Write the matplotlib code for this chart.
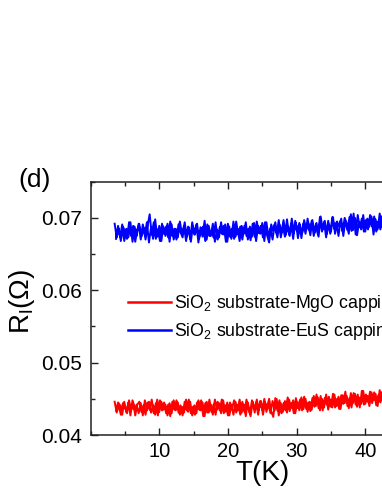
import matplotlib
matplotlib.use("Agg")
import matplotlib.pyplot as plt
from matplotlib.ticker import MultipleLocator

plt.rcParams['font.family'] = ['Liberation Sans', 'DejaVu Sans']
plt.rcParams['mathtext.fontset'] = 'custom'
plt.rcParams['mathtext.rm'] = 'Liberation Sans'
plt.rcParams['mathtext.it'] = 'Liberation Sans:italic'

# Warming sweep temperatures (K)
temperature_up = [
    3.5, 3.8, 4.1, 4.4, 4.7, 5.0, 5.3, 5.6, 5.9, 6.2,
    6.5, 6.8, 7.1, 7.4, 7.7, 8.0, 8.3, 8.6, 8.9, 9.2,
    9.5, 9.8, 10.1, 10.4, 10.7, 11.0, 11.3, 11.6, 11.9, 12.2,
    12.5, 12.8, 13.1, 13.4, 13.7, 14.0, 14.3, 14.6, 14.9, 15.2,
    15.5, 15.8, 16.1, 16.4, 16.7, 17.0, 17.3, 17.6, 17.9, 18.2,
    18.5, 18.8, 19.1, 19.4, 19.7, 20.0, 20.3, 20.6, 20.9, 21.2,
    21.5, 21.8, 22.1, 22.4, 22.7, 23.0, 23.3, 23.6, 23.9, 24.2,
    24.5, 24.8, 25.1, 25.4, 25.7, 26.0, 26.3, 26.6, 26.9, 27.2,
    27.5, 27.8, 28.1, 28.4, 28.7, 29.0, 29.3, 29.6, 29.9, 30.2,
    30.5, 30.8, 31.1, 31.4, 31.7, 32.0, 32.3, 32.6, 32.9, 33.2,
    33.5, 33.8, 34.1, 34.4, 34.7, 35.0, 35.3, 35.6, 35.9, 36.2,
    36.5, 36.8, 37.1, 37.4, 37.7, 38.0, 38.3, 38.6, 38.9, 39.2,
    39.5, 39.8, 40.1, 40.4, 40.7, 41.0, 41.3, 41.6, 41.9, 42.2,
    42.5, 42.8, 43.1,
]

# Cooling sweep temperatures (K)
temperature_down = [
    43.0, 42.7, 42.4, 42.1, 41.8, 41.5, 41.2, 40.9, 40.6, 40.3,
    40.0, 39.7, 39.4, 39.1, 38.8, 38.5, 38.2, 37.9, 37.6, 37.3,
    37.0, 36.7, 36.4, 36.1, 35.8, 35.5, 35.2, 34.9, 34.6, 34.3,
    34.0, 33.7, 33.4, 33.1, 32.8, 32.5, 32.2, 31.9, 31.6, 31.3,
    31.0, 30.7, 30.4, 30.1, 29.8, 29.5, 29.2, 28.9, 28.6, 28.3,
    28.0, 27.7, 27.4, 27.1, 26.8, 26.5, 26.2, 25.9, 25.6, 25.3,
    25.0, 24.7, 24.4, 24.1, 23.8, 23.5, 23.2, 22.9, 22.6, 22.3,
    22.0, 21.7, 21.4, 21.1, 20.8, 20.5, 20.2, 19.9, 19.6, 19.3,
    19.0, 18.7, 18.4, 18.1, 17.8, 17.5, 17.2, 16.9, 16.6, 16.3,
    16.0, 15.7, 15.4, 15.1, 14.8, 14.5, 14.2, 13.9, 13.6, 13.3,
    13.0, 12.7, 12.4, 12.1, 11.8, 11.5, 11.2, 10.9, 10.6, 10.3,
    10.0, 9.7, 9.4, 9.1, 8.8, 8.5, 8.2, 7.9, 7.6, 7.3,
    7.0, 6.7, 6.4, 6.1, 5.8, 5.5, 5.2, 4.9, 4.6, 4.3,
    4.0, 3.7,
]

# SiO2 substrate - EuS capping (Ohm), warming
r_eus_up = [
    0.0692, 0.0673, 0.0685, 0.0668, 0.0688, 0.0682, 0.0671, 0.0694, 0.0675, 0.0689,
    0.0667, 0.0684, 0.0691, 0.0674, 0.0687, 0.0670, 0.0689, 0.0705, 0.0677, 0.0694,
    0.0671, 0.0684, 0.0668, 0.0692, 0.0678, 0.0688, 0.0673, 0.0695, 0.0675, 0.0685,
    0.0670, 0.0691, 0.0680, 0.0673, 0.0694, 0.0674, 0.0687, 0.0667, 0.0689, 0.0677,
    0.0692, 0.0671, 0.0684, 0.0688, 0.0668, 0.0691, 0.0675, 0.0682, 0.0673, 0.0694,
    0.0670, 0.0687, 0.0678, 0.0689, 0.0667, 0.0692, 0.0674, 0.0685, 0.0671, 0.0695,
    0.0677, 0.0688, 0.0670, 0.0689, 0.0675, 0.0685, 0.0669, 0.0692, 0.0674, 0.0695,
    0.0679, 0.0689, 0.0673, 0.0694, 0.0676, 0.0666, 0.0691, 0.0682, 0.0694, 0.0673,
    0.0691, 0.0680, 0.0697, 0.0676, 0.0688, 0.0675, 0.0699, 0.0679, 0.0693, 0.0672,
    0.0690, 0.0679, 0.0697, 0.0683, 0.0693, 0.0676, 0.0697, 0.0679, 0.0693, 0.0674,
    0.0702, 0.0684, 0.0696, 0.0678, 0.0691, 0.0681, 0.0701, 0.0678, 0.0695, 0.0688,
    0.0699, 0.0675, 0.0696, 0.0683, 0.0701, 0.0682, 0.0706, 0.0677, 0.0704, 0.0687,
    0.0699, 0.0681, 0.0697, 0.0684, 0.0704, 0.0688, 0.0702, 0.0681, 0.0695, 0.0684,
    0.0703, 0.0687, 0.0700,
]

# SiO2 substrate - EuS capping (Ohm), cooling
r_eus_down = [
    0.0680, 0.0702, 0.0688, 0.0706, 0.0684, 0.0698, 0.0677, 0.0702, 0.0688, 0.0699,
    0.0681, 0.0704, 0.0684, 0.0694, 0.0676, 0.0700, 0.0683, 0.0705, 0.0678, 0.0692,
    0.0700, 0.0681, 0.0696, 0.0675, 0.0694, 0.0685, 0.0701, 0.0678, 0.0696, 0.0673,
    0.0694, 0.0681, 0.0701, 0.0677, 0.0691, 0.0675, 0.0696, 0.0682, 0.0699, 0.0678,
    0.0692, 0.0672, 0.0693, 0.0682, 0.0696, 0.0671, 0.0692, 0.0677, 0.0698, 0.0674,
    0.0688, 0.0673, 0.0697, 0.0677, 0.0691, 0.0670, 0.0686, 0.0675, 0.0694, 0.0668,
    0.0693, 0.0678, 0.0689, 0.0668, 0.0693, 0.0674, 0.0688, 0.0670, 0.0694, 0.0678,
    0.0689, 0.0668, 0.0685, 0.0674, 0.0695, 0.0671, 0.0688, 0.0667, 0.0691, 0.0677,
    0.0694, 0.0673, 0.0684, 0.0667, 0.0692, 0.0675, 0.0689, 0.0670, 0.0696, 0.0674,
    0.0687, 0.0666, 0.0691, 0.0677, 0.0694, 0.0671, 0.0688, 0.0668, 0.0689, 0.0678,
    0.0695, 0.0673, 0.0685, 0.0670, 0.0691, 0.0667, 0.0692, 0.0675, 0.0688, 0.0668,
    0.0689, 0.0674, 0.0698, 0.0671, 0.0687, 0.0666, 0.0694, 0.0677, 0.0691, 0.0670,
    0.0692, 0.0675, 0.0688, 0.0667, 0.0694, 0.0673, 0.0685, 0.0668, 0.0691, 0.0674,
    0.0689, 0.0671,
]

# SiO2 substrate - MgO capping (Ohm), warming
r_mgo_up = [
    0.0446, 0.0431, 0.0441, 0.0428, 0.0444, 0.0438, 0.0430, 0.0448, 0.0434, 0.0445,
    0.0427, 0.0442, 0.0446, 0.0432, 0.0441, 0.0428, 0.0445, 0.0435, 0.0449, 0.0430,
    0.0444, 0.0427, 0.0448, 0.0434, 0.0445, 0.0430, 0.0442, 0.0426, 0.0446, 0.0435,
    0.0448, 0.0431, 0.0441, 0.0427, 0.0446, 0.0434, 0.0449, 0.0430, 0.0439, 0.0428,
    0.0445, 0.0435, 0.0448, 0.0426, 0.0444, 0.0431, 0.0449, 0.0432, 0.0442, 0.0428,
    0.0446, 0.0434, 0.0449, 0.0430, 0.0441, 0.0427, 0.0445, 0.0437, 0.0448, 0.0431,
    0.0442, 0.0428, 0.0446, 0.0432, 0.0449, 0.0436, 0.0426, 0.0446, 0.0431, 0.0449,
    0.0435, 0.0447, 0.0428, 0.0445, 0.0439, 0.0450, 0.0433, 0.0425, 0.0451, 0.0434,
    0.0448, 0.0430, 0.0444, 0.0434, 0.0452, 0.0433, 0.0444, 0.0430, 0.0451, 0.0437,
    0.0449, 0.0434, 0.0453, 0.0436, 0.0445, 0.0433, 0.0451, 0.0439, 0.0456, 0.0437,
    0.0454, 0.0434, 0.0451, 0.0442, 0.0453, 0.0439, 0.0457, 0.0438, 0.0450, 0.0436,
    0.0455, 0.0443, 0.0460, 0.0440, 0.0451, 0.0438, 0.0458, 0.0442, 0.0456, 0.0438,
    0.0461, 0.0442, 0.0456, 0.0446, 0.0460, 0.0444, 0.0459, 0.0441, 0.0455, 0.0445,
    0.0460, 0.0445, 0.0458,
]

# SiO2 substrate - MgO capping (Ohm), cooling
r_mgo_down = [
    0.0444, 0.0459, 0.0448, 0.0462, 0.0440, 0.0457, 0.0448, 0.0459, 0.0440, 0.0454,
    0.0443, 0.0461, 0.0443, 0.0452, 0.0439, 0.0457, 0.0444, 0.0458, 0.0437, 0.0454,
    0.0444, 0.0455, 0.0436, 0.0453, 0.0440, 0.0456, 0.0438, 0.0449, 0.0435, 0.0456,
    0.0438, 0.0450, 0.0434, 0.0452, 0.0440, 0.0454, 0.0435, 0.0446, 0.0432, 0.0450,
    0.0436, 0.0452, 0.0434, 0.0445, 0.0430, 0.0448, 0.0438, 0.0449, 0.0431, 0.0447,
    0.0432, 0.0444, 0.0427, 0.0450, 0.0434, 0.0447, 0.0430, 0.0442, 0.0432, 0.0450,
    0.0435, 0.0447, 0.0428, 0.0445, 0.0436, 0.0448, 0.0430, 0.0445, 0.0426, 0.0442,
    0.0431, 0.0449, 0.0434, 0.0446, 0.0428, 0.0441, 0.0427, 0.0445, 0.0432, 0.0448,
    0.0430, 0.0444, 0.0435, 0.0449, 0.0428, 0.0442, 0.0431, 0.0446, 0.0426, 0.0445,
    0.0434, 0.0448, 0.0430, 0.0441, 0.0427, 0.0446, 0.0432, 0.0449, 0.0431, 0.0439,
    0.0428, 0.0445, 0.0434, 0.0448, 0.0430, 0.0444, 0.0427, 0.0442, 0.0435, 0.0446,
    0.0432, 0.0449, 0.0428, 0.0441, 0.0431, 0.0446, 0.0434, 0.0448, 0.0427, 0.0444,
    0.0430, 0.0442, 0.0435, 0.0448, 0.0427, 0.0445, 0.0432, 0.0446, 0.0428, 0.0441,
    0.0445, 0.0434,
]

labels = [r"SiO$_\mathregular{2}$ substrate-MgO capping",
          r"SiO$_\mathregular{2}$ substrate-EuS capping"]
x_ticks = [10, 20, 30, 40]
y_ticks = [0.04, 0.05, 0.06, 0.07]
y_ticklabels = ["0.04", "0.05", "0.06", "0.07"]

fig = plt.figure(figsize=(3.82, 4.94), dpi=100)
ax = fig.add_axes([0.2372, 0.1194, 1.0785, 0.5128])

l1, = ax.plot(temperature_up + temperature_down, r_mgo_up + r_mgo_down,
              color='#ff0000', lw=1.4)
l2, = ax.plot(temperature_up + temperature_down, r_eus_up + r_eus_down,
              color='#0000ff', lw=1.4)

ax.set_xlim(0, 60)
ax.set_ylim(0.04, 0.075)
ax.set_xticks(x_ticks)
ax.set_yticks(y_ticks)
ax.set_yticklabels(y_ticklabels)
ax.xaxis.set_minor_locator(MultipleLocator(5))
ax.yaxis.set_minor_locator(MultipleLocator(0.005))
ax.tick_params(which='both', direction='in', top=True, right=True,
               width=1.0, colors='#222222', labelcolor='black')
ax.tick_params(axis='x', which='major', labelsize=14.5, length=5, pad=5)
ax.tick_params(axis='y', which='major', labelsize=15, length=5, pad=6)
ax.tick_params(which='minor', length=3)
for s in ax.spines.values():
    s.set_linewidth(1.1)
    s.set_color('#222222')

fig.text(22 / 382, 1 - 302 / 494, r"R$_\mathregular{l}$(Ω)", rotation=90,
         ha='center', va='center', fontsize=20)
fig.text(262 / 382, 1 - 473 / 494, "T(K)", ha='center', va='center', fontsize=20)
fig.text(18 / 382, 1 - 180 / 494, "(d)", ha='left', va='center', fontsize=19)

leg = ax.legend([l1, l2], labels, loc='upper left',
                bbox_to_anchor=(0.091, 0.56), frameon=False, fontsize=12.8,
                handlelength=2.4, handletextpad=0.2, labelspacing=0.4,
                borderpad=0, borderaxespad=0)
for line in leg.get_lines():
    line.set_linewidth(1.8)

fig.savefig("out.png", dpi=100)
